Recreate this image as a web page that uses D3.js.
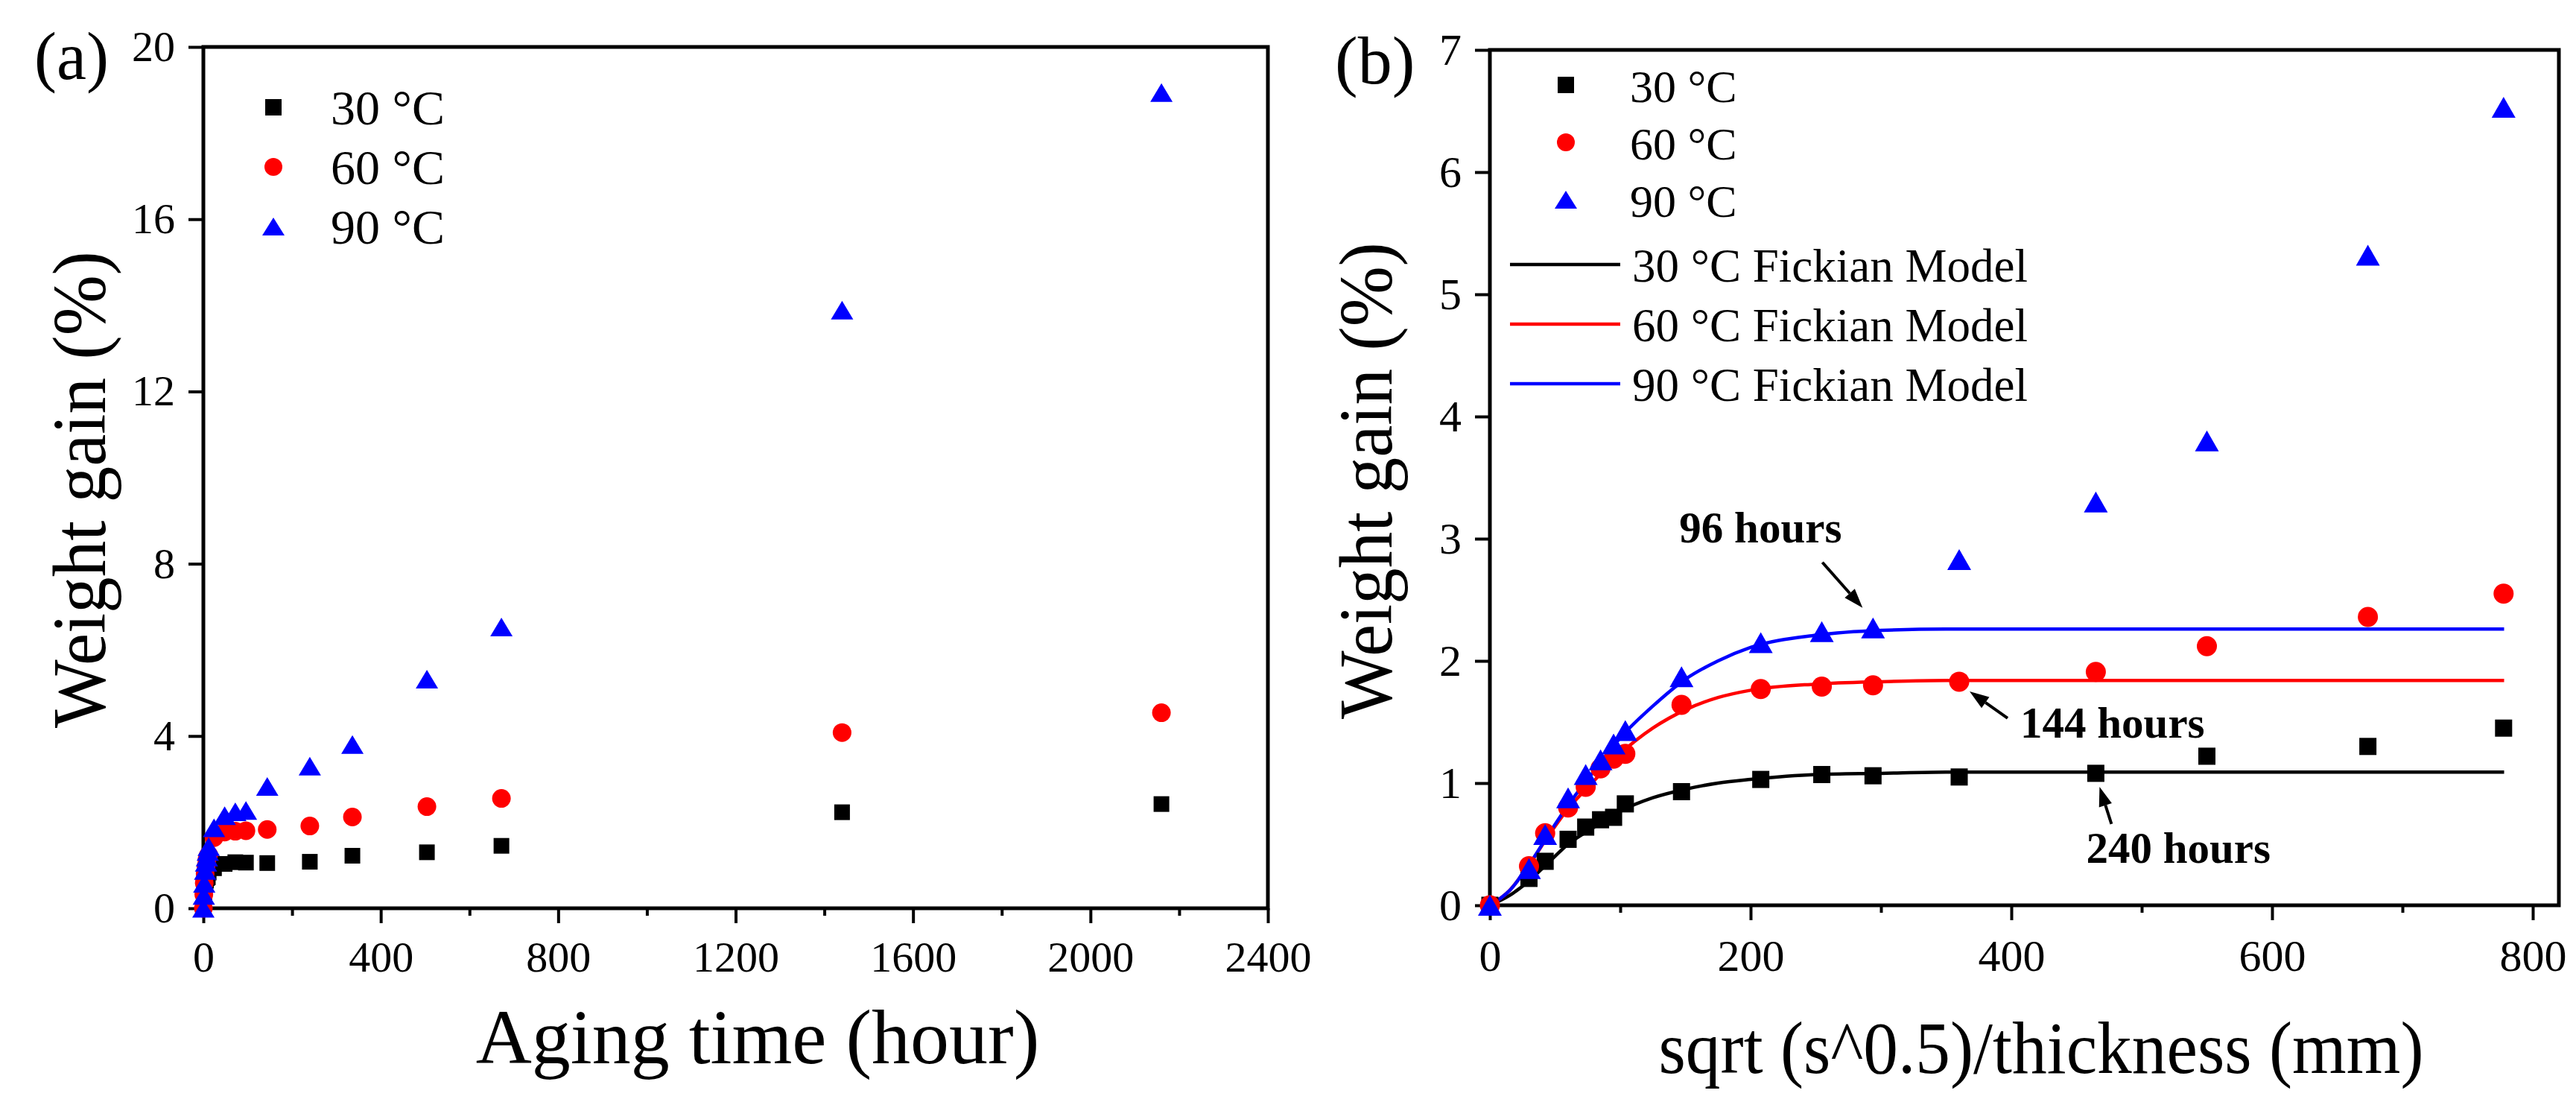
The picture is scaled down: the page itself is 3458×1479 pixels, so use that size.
<!DOCTYPE html>
<html>
<head>
<meta charset="utf-8">
<script src="https://cdn.jsdelivr.net/npm/d3@7"></script>
<style>
  body { margin: 0; background: #fff; }
  text { font-family: "Liberation Serif", "Times New Roman", serif; fill: #000; }
</style>
</head>
<body>
<script>
// ---- data ----
// aging time in hours (panel a)
var hours = [0, 1, 2, 4, 6, 8, 10, 12, 24, 48, 72, 96, 144, 240, 336, 504, 672, 1440, 2160];
// same samples on the sqrt(s^0.5)/thickness axis (panel b, up to 672 h)
var sqrtX = [0, 30, 42.4, 60, 73.5, 84.9, 94.9, 103.9, 147, 207.8, 254.6, 293.9, 360, 464.8, 550, 673.5, 777.6];

var gain30 = [0, 0.22, 0.36, 0.54, 0.64, 0.70, 0.72, 0.83, 0.93, 1.03, 1.07, 1.06, 1.05, 1.08, 1.22, 1.30, 1.45, 2.23, 2.42];
var gain60 = [0, 0.32, 0.59, 0.80, 0.97, 1.12, 1.20, 1.24, 1.64, 1.77, 1.79, 1.80, 1.83, 1.91, 2.12, 2.36, 2.55, 4.08, 4.54];
var gain90 = [0, 0.30, 0.58, 0.88, 1.07, 1.19, 1.32, 1.43, 1.87, 2.15, 2.24, 2.27, 2.83, 3.30, 3.80, 5.32, 6.53, 13.89, 18.94];

// Fickian model curves (panel b)
var modelX   = [0, 15, 30, 45, 60, 80, 100, 125, 150, 175, 200, 250, 300, 350, 400, 500, 778];
var model30  = [0, 0.08, 0.20, 0.35, 0.50, 0.64, 0.77, 0.88, 0.95, 1.00, 1.03, 1.07, 1.08, 1.09, 1.09, 1.09, 1.09];
var model60  = [0, 0.12, 0.33, 0.57, 0.79, 1.02, 1.24, 1.45, 1.60, 1.70, 1.76, 1.81, 1.83, 1.84, 1.84, 1.84, 1.84];
var model90  = [0, 0.12, 0.33, 0.58, 0.82, 1.10, 1.37, 1.63, 1.85, 2.00, 2.11, 2.21, 2.25, 2.26, 2.26, 2.26, 2.26];

var seriesNames = ["30 °C", "60 °C", "90 °C"];
var modelNames = ["30 °C Fickian Model", "60 °C Fickian Model", "90 °C Fickian Model"];
var colors = ["#000000", "#ff0000", "#0000ff"];
var shapes = ["square", "circle", "triangle"];

var xTicksA = [0, 400, 800, 1200, 1600, 2000, 2400];
var yTicksA = [0, 4, 8, 12, 16, 20];
var xTicksB = [0, 200, 400, 600, 800];
var yTicksB = [0, 1, 2, 3, 4, 5, 6, 7];

// annotations in panel b: index into sqrtX, the series, and pixel offsets
var notes = [
  {label: "96 hours",  i: 11, s: 2, tip: [-14, -27], tail: [-68, -88], txt: [-260, -115]},
  {label: "144 hours", i: 12, s: 1, tip: [14, 13],   tail: [65, 49],   txt: [82, 75]},
  {label: "240 hours", i: 13, s: 0, tip: [5, 18],    tail: [21, 68],   txt: [-13, 120]}
];

var W = 3458, H = 1479;
var svg = d3.select("body").append("svg").attr("width", W).attr("height", H);
svg.append("rect").attr("width", W).attr("height", H).attr("fill", "#fff");

// marker drawing
function marker(sel, shape, color, size) {
    if (shape === "square") {
        sel.append("rect")
            .attr("x", -size.sq / 2).attr("y", -size.sq / 2)
            .attr("width", size.sq).attr("height", size.sq)
            .attr("fill", color);
    } else if (shape === "circle") {
        sel.append("circle").attr("r", size.ci / 2).attr("fill", color);
    } else {
        var w = size.tw, h = size.th;
        sel.append("path")
            .attr("d", "M0," + (-h / 2) + "L" + (w / 2) + "," + (h / 2) + "L" + (-w / 2) + "," + (h / 2) + "Z")
            .attr("fill", color);
    }
}

// axes + frame
function frame(g, x, y, o) {
    var x0 = x.range()[0], x1 = x.range()[1], y0 = y.range()[0], y1 = y.range()[1];

    // minor ticks
    g.append("g").attr("transform", "translate(0," + y0 + ")")
        .call(d3.axisBottom(x).tickValues(o.xMinor).tickSize(10).tickFormat(""))
        .call(a => a.select(".domain").remove())
        .selectAll("line").attr("stroke-width", 4);

    var xa = g.append("g").attr("transform", "translate(0," + y0 + ")")
        .call(d3.axisBottom(x).tickValues(o.xTicks).tickSize(20).tickPadding(o.xPad).tickFormat(d3.format("d")));
    xa.select(".domain").remove();
    xa.selectAll("line").attr("stroke-width", 4);
    xa.selectAll("text").style("font-size", o.tickFont + "px").attr("font-family", null);

    var ya = g.append("g").attr("transform", "translate(" + x0 + ",0)")
        .call(d3.axisLeft(y).tickValues(o.yTicks).tickSize(20).tickPadding(18).tickFormat(d3.format("d")));
    ya.select(".domain").remove();
    ya.selectAll("line").attr("stroke-width", 4);
    ya.selectAll("text").style("font-size", o.tickFont + "px").attr("font-family", null);

    g.append("rect")
        .attr("x", x0).attr("y", y1)
        .attr("width", x1 - x0).attr("height", y0 - y1)
        .attr("fill", "none").attr("stroke", "#000").attr("stroke-width", 5);
}

// ---------------- panel (a) ----------------
var xa = d3.scaleLinear().domain([0, 2400]).range([273, 1702]);
var ya = d3.scaleLinear().domain([0, 20]).range([1219, 63]);
var gA = svg.append("g");

frame(gA, xa, ya, {
    xTicks: xTicksA, xMinor: d3.range(200, 2400, 400), yTicks: yTicksA,
    tickFont: 58, xPad: 24
});

var sizeA = {sq: 21, ci: 25, tw: 30, th: 25};
[gain30, gain60, gain90].forEach(function (vals, s) {
    gA.append("g").selectAll("g")
        .data(hours.map((t, i) => [t, vals[i]]))
        .enter().append("g")
        .attr("transform", d => "translate(" + xa(d[0]) + "," + ya(d[1]) + ")")
        .each(function () { marker(d3.select(this), shapes[s], colors[s], sizeA); });
});

// legend (a)
seriesNames.forEach(function (n, s) {
    var ly = 144 + s * 80;
    marker(gA.append("g").attr("transform", "translate(367," + ly + ")"), shapes[s], colors[s], {sq: 22, ci: 24, tw: 30, th: 24});
    gA.append("text").attr("x", 444).attr("y", ly + 23).style("font-size", "66px").text(n);
});

gA.append("text").attr("x", 46).attr("y", 106).style("font-size", "90px").text("(a)");
gA.append("text").attr("x", 1017).attr("y", 1427).attr("text-anchor", "middle")
    .style("font-size", "104px").text("Aging time (hour)");
gA.append("text").attr("transform", "translate(141,657) rotate(-90)").attr("text-anchor", "middle")
    .attr("textLength", 640).attr("lengthAdjust", "spacingAndGlyphs")
    .style("font-size", "102px").text("Weight gain (%)");

// ---------------- panel (b) ----------------
var xb = d3.scaleLinear().domain([0, 820]).range([2000, 3435]);
var yb = d3.scaleLinear().domain([0, 7]).range([1215, 67]);
var gB = svg.append("g");

frame(gB, xb, yb, {
    xTicks: xTicksB, xMinor: d3.range(100, 820, 200), yTicks: yTicksB,
    tickFont: 60, xPad: 25
});

var line = d3.line().x(d => xb(d[0])).y(d => yb(d[1])).curve(d3.curveMonotoneX);
[model30, model60, model90].forEach(function (vals, s) {
    gB.append("path")
        .datum(modelX.map((v, i) => [v, vals[i]]))
        .attr("d", line)
        .attr("fill", "none").attr("stroke", colors[s]).attr("stroke-width", 4.5);
});

var sizeB = {sq: 23, ci: 27, tw: 32, th: 28};
[gain30, gain60, gain90].forEach(function (vals, s) {
    gB.append("g").selectAll("g")
        .data(sqrtX.map((v, i) => [v, vals[i]]))
        .enter().append("g")
        .attr("transform", d => "translate(" + xb(d[0]) + "," + yb(d[1]) + ")")
        .each(function () { marker(d3.select(this), shapes[s], colors[s], sizeB); });
});

// legend (b)
seriesNames.forEach(function (n, s) {
    var ly = 114 + s * 77;
    marker(gB.append("g").attr("transform", "translate(2102," + ly + ")"), shapes[s], colors[s], {sq: 22, ci: 24, tw: 30, th: 24});
    gB.append("text").attr("x", 2188).attr("y", ly + 23).style("font-size", "62px").text(n);
});
modelNames.forEach(function (n, s) {
    var ly = 355 + s * 80;
    gB.append("line").attr("x1", 2027).attr("x2", 2175).attr("y1", ly).attr("y2", ly)
        .attr("stroke", colors[s]).attr("stroke-width", 4.5);
    gB.append("text").attr("x", 2191).attr("y", ly + 23).style("font-size", "63px").text(n);
});

// annotations with arrows
var series = [gain30, gain60, gain90];
notes.forEach(function (n) {
    var px = xb(sqrtX[n.i]), py = yb(series[n.s][n.i]);
    var tx = px + n.tip[0], ty = py + n.tip[1];
    var sx = px + n.tail[0], sy = py + n.tail[1];
    var ang = Math.atan2(ty - sy, tx - sx);
    var L = 26, hw = 9;
    var bx = tx - L * Math.cos(ang), by = ty - L * Math.sin(ang);
    gB.append("line").attr("x1", sx).attr("y1", sy).attr("x2", bx).attr("y2", by)
        .attr("stroke", "#000").attr("stroke-width", 4);
    gB.append("path")
        .attr("d", "M" + tx + "," + ty +
            "L" + (bx + hw * Math.sin(ang)) + "," + (by - hw * Math.cos(ang)) +
            "L" + (bx - hw * Math.sin(ang)) + "," + (by + hw * Math.cos(ang)) + "Z")
        .attr("fill", "#000");
    gB.append("text").attr("x", px + n.txt[0]).attr("y", py + n.txt[1])
        .style("font-size", "59px").style("font-weight", "bold").text(n.label);
});

gB.append("text").attr("x", 1792).attr("y", 112).style("font-size", "92px").text("(b)");
gB.append("text").attr("x", 2740).attr("y", 1440).attr("text-anchor", "middle")
    .attr("textLength", 1027).attr("lengthAdjust", "spacingAndGlyphs")
    .style("font-size", "100px").text("sqrt (s^0.5)/thickness (mm)");
gB.append("text").attr("transform", "translate(1868,645) rotate(-90)").attr("text-anchor", "middle")
    .attr("textLength", 640).attr("lengthAdjust", "spacingAndGlyphs")
    .style("font-size", "102px").text("Weight gain (%)");
</script>
</body>
</html>
